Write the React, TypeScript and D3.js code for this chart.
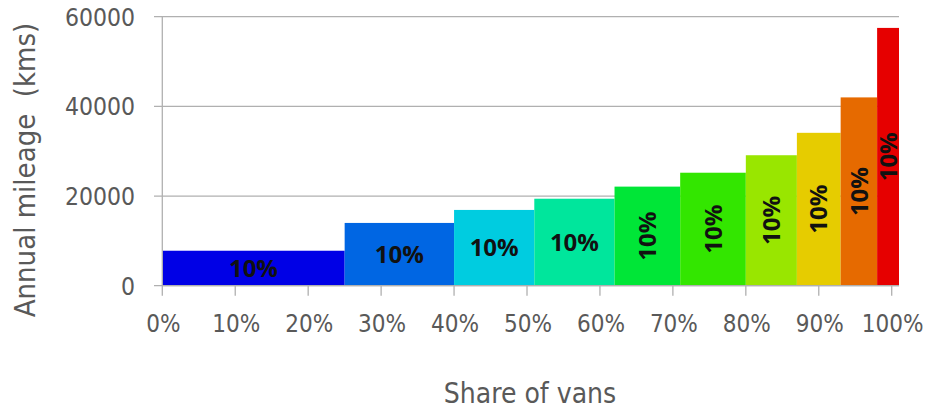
import React from "react";
import * as d3 from "d3";

// Share of vans (width of each bar, in %) and annual mileage (km)
const vanShares = [25, 15, 11, 11, 9, 9, 7, 6, 5, 3];
const annualMileage = [7800, 14000, 16900, 19400, 22100, 25200, 29100, 34100, 42000, 57500];
const mileageShareLabels = ["10%", "10%", "10%", "10%", "10%", "10%", "10%", "10%", "10%", "10%"];
const barColors = [
  "#0000e6", "#0066e3", "#00cce0", "#00e69c", "#00e637",
  "#33e600", "#99e600", "#e6cc00", "#e66a00", "#e60000",
];
const yTicks = [0, 20000, 40000, 60000];
const xTicks = [0, 10, 20, 30, 40, 50, 60, 70, 80, 90, 100];

const W = 937;
const H = 409;

export default function App() {
  const x = d3.scaleLinear().domain([0, 101]).range([162.3, 899]);
  const y = d3.scaleLinear().domain([0, 60000]).range([285.7, 16.7]);
  const starts = d3.cumsum([0, ...vanShares.slice(0, -1)]);
  const axisColor = "#b0b0b0";
  const font = "'DejaVu Sans Condensed', 'DejaVu Sans', sans-serif";
  const textColor = "#595959";

  return (
    <svg
      width={W}
      height={H}
      style={{ position: "absolute", left: 0, top: 0, background: "#fff" }}
      fontFamily={font}
    >
      {/* gridlines + y ticks */}
      {yTicks.map((t) => (
        <g key={t}>
          <line x1={154} x2={x(101)} y1={y(t)} y2={y(t)} stroke={axisColor} strokeWidth={1.3} />
          <text
            x={135}
            y={y(t)}
            dy="0.36em"
            textAnchor="end"
            fontSize={24.5}
            fill={textColor}
            style={{ fontStretch: "condensed" }}
          >
            {t}
          </text>
        </g>
      ))}
      {/* bars */}
      {vanShares.map((s, i) => {
        const x0 = x(starts[i]);
        const x1 = x(starts[i] + s);
        const yTop = y(annualMileage[i]);
        const cx = (x0 + x1) / 2;
        const cy = (yTop + y(0)) / 2;
        const rotate = s < 10;
        return (
          <g key={i}>
            <rect x={x0} y={yTop} width={x1 - x0} height={y(0) - yTop} fill={barColors[i]} />
            <text
              x={cx}
              y={cy}
              dy="0.36em"
              textAnchor="middle"
              fontFamily="'Open Sans', sans-serif"
              fontWeight={700}
              fontSize={24}
              fill="#111"
              transform={rotate ? `rotate(-90 ${cx} ${cy})` : undefined}
            >
              {mileageShareLabels[i]}
            </text>
          </g>
        );
      })}
      {/* y axis */}
      <line x1={x(0)} x2={x(0)} y1={y(60000)} y2={y(0)} stroke={axisColor} strokeWidth={1.3} />
      {/* x axis */}
      <line x1={x(0)} x2={x(101)} y1={y(0)} y2={y(0)} stroke={axisColor} strokeWidth={1.3} />
      {xTicks.map((t) => (
        <g key={t}>
          <line x1={x(t)} x2={x(t)} y1={y(0)} y2={y(0) + 10} stroke={axisColor} strokeWidth={1.3} />
          <text
            x={x(t) + 1}
            y={331.5}
            textAnchor="middle"
            fontSize={24}
            fill={textColor}
            style={{ fontStretch: "condensed" }}
          >
            {t + "%"}
          </text>
        </g>
      ))}
      {/* axis titles */}
      <text
        x={530}
        y={403}
        textAnchor="middle"
        fontSize={28}
        fill={textColor}
        style={{ fontStretch: "condensed" }}
      >
        Share of vans
      </text>
      <text
        transform="translate(35,170) rotate(-90)"
        textAnchor="middle"
        fontSize={29}
        fill={textColor}
        style={{ fontStretch: "condensed", whiteSpace: "pre" }}
      >
        {"Annual mileage  (kms)"}
      </text>
    </svg>
  );
}
